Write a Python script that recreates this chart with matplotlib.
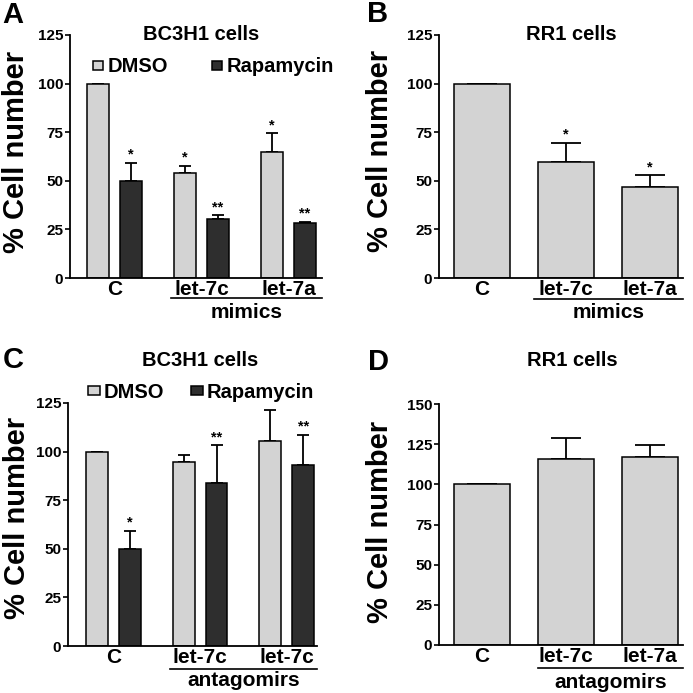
import matplotlib
matplotlib.use("Agg")
import matplotlib.pyplot as plt
import numpy as np

plt.rcParams["font.family"] = ["Liberation Sans", "DejaVu Sans"]
plt.rcParams["font.weight"] = "bold"
plt.rcParams["axes.labelweight"] = "bold"

W = 693

# ---- data ----
series_names = ["DMSO", "Rapamycin"]

a_groups = ["C", "let-7c", "let-7a"]
a_dmso = [100, 53.8, 64.7]
a_dmso_err = [0, 4.0, 9.8]
a_rapa = [49.8, 30.2, 28.1]
a_rapa_err = [9.3, 2.0, 0.7]
a_dmso_sig = ["", "*", "*"]
a_rapa_sig = ["*", "**", "**"]

b_groups = ["C", "let-7c", "let-7a"]
b_vals = [100, 59.9, 46.7]
b_err = [0, 9.5, 6.1]
b_sig = ["", "*", "*"]

c_groups = ["C", "let-7c", "let-7c"]
c_dmso = [100, 94.8, 105.6]
c_dmso_err = [0, 3.4, 15.8]
c_rapa = [50.0, 84.0, 93.2]
c_rapa_err = [9.2, 19.2, 15.3]
c_dmso_sig = ["", "", ""]
c_rapa_sig = ["*", "**", "**"]

d_groups = ["C", "let-7c", "let-7a"]
d_vals = [100, 115.8, 116.8]
d_err = [0, 13.0, 7.7]

light = "#d3d3d3"
dark = "#2e2e2e"


def px(x, y):
    return x / W, 1 - y / W


def make_ax(fig, left, top, right, bottom, ymax, xlim, label_xy):
    ax = fig.add_axes([left / W, 1 - bottom / W, (right - left) / W, (bottom - top) / W])
    ax.set_ylim(0, ymax)
    ax.set_xlim(*xlim)
    ax.set_yticks(np.arange(0, ymax + 1, 25))
    for s in ["top", "right"]:
        ax.spines[s].set_visible(False)
    for s in ["left", "bottom"]:
        ax.spines[s].set_linewidth(1.3)
    ax.tick_params(axis="y", length=3.5, width=1.2, labelsize=11, pad=1.5)
    ax.tick_params(axis="x", length=0, labelsize=15, pad=1.5)
    ax.set_ylabel("% Cell number", fontsize=21)
    ax.yaxis.set_label_coords(*px(*label_xy), transform=fig.transFigure)
    return ax


def errs(ax, x, vals, err, capsize):
    ax.errorbar(x, vals, yerr=[np.zeros(len(err)), err], fmt="none",
                ecolor="black", elinewidth=1.3, capsize=capsize, capthick=1.3,
                zorder=1)


def stars(ax, x, vals, err, sig):
    for xi, v, e, s in zip(x, vals, err, sig):
        if s:
            ax.annotate(s, (xi, v + e), xytext=(0, 3), textcoords="offset points",
                        ha="center", va="baseline", fontsize=10.5)


def group_line(ax, start, label, yline, ytext):
    x1 = ax.get_xlim()[1]
    ax.plot([start, x1], [yline, yline], color="black", lw=1.2,
            transform=ax.get_xaxis_transform(), clip_on=False)
    ax.text((start + x1) / 2, ytext, label, ha="center", va="center",
            fontsize=15, transform=ax.get_xaxis_transform())


fig = plt.figure(figsize=(6.93, 6.93), dpi=100)

# ---- panel A ----
off, bw = 0.19, 0.253
ax = make_ax(fig, 70, 35, 322, 278, 125, (-0.51, 2.385), (30, 152))
x = np.arange(len(a_groups))
b1 = ax.bar(x - off, a_dmso, bw, color=light, edgecolor="black", lw=1.1, zorder=2)
b2 = ax.bar(x + off, a_rapa, bw, color=dark, edgecolor="black", lw=1.1, zorder=2)
errs(ax, x - off, a_dmso, a_dmso_err, 4.5)
errs(ax, x + off, a_rapa, a_rapa_err, 4.5)
stars(ax, x - off, a_dmso, a_dmso_err, a_dmso_sig)
stars(ax, x + off, a_rapa, a_rapa_err, a_rapa_sig)
ax.set_xticks(x, a_groups)
group_line(ax, 1 - off - bw / 2 - 0.03, "mimics", -20 / 243, -34 / 243)
ax.legend([b1, b2], series_names, ncol=2, loc="center left",
          bbox_to_anchor=px(93, 67), bbox_transform=fig.transFigure,
          frameon=False, fontsize=14.5, handlelength=0.5, handleheight=0.35,
          handletextpad=0.22, columnspacing=2.2, borderpad=0, borderaxespad=0)
fig.text(*px(201, 35), "BC3H1 cells", ha="center", va="center", fontsize=14.5)

# ---- panel B ----
ax = make_ax(fig, 439, 35, 683, 278, 125, (-0.512, 2.393), (394, 151))
x = np.arange(len(b_groups))
bw2 = 0.667
ax.bar(x, b_vals, bw2, color=light, edgecolor="black", lw=1.1, zorder=2)
errs(ax, x, b_vals, b_err, 11)
stars(ax, x, b_vals, b_err, b_sig)
ax.set_xticks(x, b_groups)
group_line(ax, 1 - bw2 / 2 - 0.05, "mimics", -21 / 243, -35 / 243)
fig.text(*px(571, 35), "RR1 cells", ha="center", va="center", fontsize=14.5)

# ---- panel C ----
ax = make_ax(fig, 68, 403, 317, 646, 125, (-0.525, 2.35), (31, 518))
x = np.arange(len(c_groups))
b1 = ax.bar(x - off, c_dmso, bw, color=light, edgecolor="black", lw=1.1, zorder=2)
b2 = ax.bar(x + off, c_rapa, bw, color=dark, edgecolor="black", lw=1.1, zorder=2)
errs(ax, x - off, c_dmso, c_dmso_err, 4.5)
errs(ax, x + off, c_rapa, c_rapa_err, 4.5)
stars(ax, x - off, c_dmso, c_dmso_err, c_dmso_sig)
stars(ax, x + off, c_rapa, c_rapa_err, c_rapa_sig)
ax.set_xticks(x, c_groups)
group_line(ax, 1 - off - bw / 2 - 0.03, "antagomirs", -23 / 243, -35 / 243)
ax.legend([b1, b2], series_names, ncol=2, loc="center left",
          bbox_to_anchor=px(88, 392), bbox_transform=fig.transFigure,
          frameon=False, fontsize=14.5, handlelength=0.6, handleheight=0.35,
          handletextpad=0.18, columnspacing=1.35, borderpad=0, borderaxespad=0)
fig.text(*px(200, 361), "BC3H1 cells", ha="center", va="center", fontsize=14.5)

# ---- panel D ----
ax = make_ax(fig, 439, 404, 683, 645, 150, (-0.512, 2.393), (394, 522))
x = np.arange(len(d_groups))
ax.bar(x, d_vals, bw2, color=light, edgecolor="black", lw=1.1, zorder=2)
errs(ax, x, d_vals, d_err, 11)
ax.set_xticks(x, d_groups)
group_line(ax, 1 - bw2 / 2, "antagomirs", -23 / 241, -38 / 241)
fig.text(*px(572, 361), "RR1 cells", ha="center", va="center", fontsize=14.5)

# panel letters
for lab, (lx, ly) in zip("ABCD", [(13, 15), (378, 14), (13, 360), (378, 362)]):
    fig.text(*px(lx, ly), lab, ha="center", va="center", fontsize=21)

fig.savefig("out.png", dpi=100, facecolor="white")
